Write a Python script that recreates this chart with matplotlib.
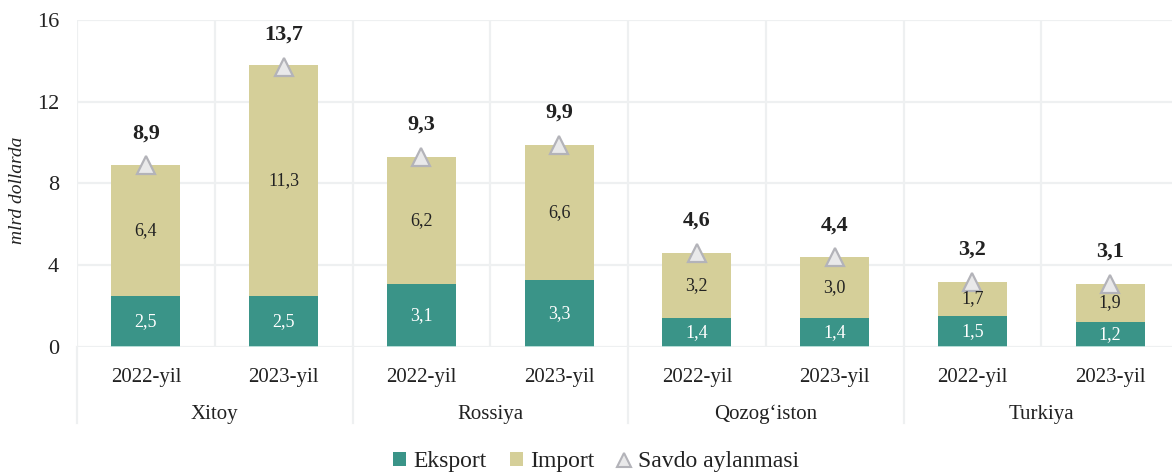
import matplotlib
matplotlib.use("Agg")
import matplotlib.pyplot as plt
from matplotlib.patches import Patch
from matplotlib.lines import Line2D
from matplotlib.transforms import blended_transform_factory

plt.rcParams["font.family"] = ["Liberation Serif", "DejaVu Serif"]

# Trade data, billion USD
countries = ["Xitoy", "Rossiya", "Qozog\u2018iston", "Turkiya"]
years = ["2022-yil", "2023-yil"]
export_vals = [2.5, 2.5, 3.1, 3.3, 1.4, 1.4, 1.5, 1.2]
import_vals = [6.4, 11.3, 6.2, 6.6, 3.2, 3.0, 1.7, 1.9]
turnover = [8.9, 13.7, 9.3, 9.9, 4.6, 4.4, 3.2, 3.1]
y_ticks = [0, 4, 8, 12, 16]
y_label = "mlrd dollarda"
legend_labels = ["Eksport", "Import", "Savdo aylanmasi"]

c_exp = "#3a9488"
c_imp = "#d5cf99"
c_grid = "#eef0f1"
c_text = "#222222"

def fmt(v):
    return f"{v:.1f}".replace(".", ",")

W, H = 1172, 472
fig = plt.figure(figsize=(W / 100, H / 100), dpi=100)
ax_w = 1179 - 77
ax = fig.add_axes([77 / W, (H - 347) / H, ax_w / W, (347 - 20) / H])

n = len(export_vals)
x = list(range(n))
ax.set_xlim(-0.5, n - 0.5)
ax.set_ylim(0, 16)

# grid
for t in y_ticks:
    ax.axhline(t, color=c_grid, lw=1.6, zorder=0)
for i in range(n + 1):
    ax.axvline(i - 0.5, color=c_grid, lw=1.6, zorder=0)

bw = 0.5
ax.bar(x, export_vals, bw, color=c_exp, zorder=2)
ax.bar(x, import_vals, bw, bottom=export_vals, color=c_imp, zorder=2)
# thin light base under each bar
ax.bar(x, [0.05] * n, bw, color="#b5dcd6", zorder=3)
ax.plot(x, turnover, linestyle="none", marker="^", markersize=13,
        markerfacecolor="#e9e9ea", markeredgecolor="#b3b3b9",
        markeredgewidth=1.6, zorder=4, clip_on=False)

for xi, e, im, t in zip(x, export_vals, import_vals, turnover):
    ax.text(xi, e / 2, fmt(e), ha="center", va="center", color="white",
            fontsize=13, zorder=5)
    ax.text(xi, e + im / 2, fmt(im), ha="center", va="center", color=c_text,
            fontsize=13, zorder=5)
    ax.annotate(fmt(t), (xi, t), xytext=(0, 23), textcoords="offset points",
                ha="center", va="center", fontsize=16, fontweight="bold",
                color=c_text, zorder=5)

for s in ax.spines.values():
    s.set_visible(False)
ax.set_yticks(y_ticks)
ax.set_yticklabels([str(t) for t in y_ticks], fontsize=16, color=c_text)
ax.tick_params(axis="y", length=0, pad=13)
ax.set_xticks([])

ax.set_ylabel(y_label, fontsize=14, style="italic", color=c_text)
ax.yaxis.set_label_coords(-51 / ax_w, 0.48)

trans = blended_transform_factory(ax.transData, ax.transAxes)
for i in range(n):
    ax.text(i, -0.092, years[i % 2], transform=trans, ha="center", va="center",
            fontsize=15, color=c_text)
for g, name in enumerate(countries):
    ax.text(2 * g + 0.5, -0.205, name, transform=trans, ha="center",
            va="center", fontsize=15, color=c_text)
for b in range(0, n + 1, 2):
    ax.plot([b - 0.5, b - 0.5], [0, -0.232], transform=trans, color=c_grid,
            lw=1.6, clip_on=False, zorder=0)

handles = [
    Patch(facecolor=c_exp, edgecolor="none"),
    Patch(facecolor=c_imp, edgecolor="none"),
    Line2D([], [], linestyle="none", marker="^", markersize=10,
           markerfacecolor="#e9e9ea", markeredgecolor="#b3b3b9",
           markeredgewidth=1.5),
]
fig.legend(handles, legend_labels, loc="center", bbox_to_anchor=(596 / W, 10 / H),
           ncol=3, frameon=False, fontsize=17, handlelength=0.55,
           handleheight=0.55, handletextpad=0.3, columnspacing=1.0,
           labelcolor=c_text)

fig.savefig("out.png", dpi=100)
